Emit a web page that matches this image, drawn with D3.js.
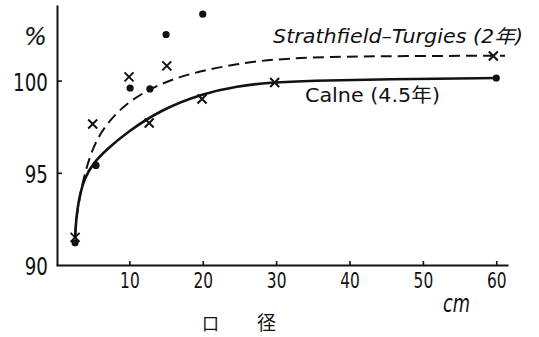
<!DOCTYPE html>
<html>
<head>
<meta charset="utf-8">
<script src="https://cdn.jsdelivr.net/npm/d3@7"></script>
<style>
  html, body { margin: 0; padding: 0; background: #fff; }
  svg { display: block; }
  text { fill: #111; font-family: "DejaVu Sans", "Noto Sans CJK JP", sans-serif; }
</style>
</head>
<body>
<svg id="chart" width="539" height="337"></svg>
<script>
// Aperture (cm) vs. relative percentage, two sites
const xTicks = [10, 20, 30, 40, 50, 60];
const yTicks = [90, 95, 100];

// Strathfield-Turgies (2年): observed points (×)
const stratX = [2.6, 5.0, 9.95, 12.7, 15.1, 19.9, 29.8, 59.6];
const stratY = [91.5, 97.65, 100.2, 97.7, 100.8, 99.0, 99.9, 101.33];

// Calne (4.5年): observed points (●)
const calneX = [2.6, 5.45, 10.1, 12.8, 15.0, 20.0, 60.0];
const calneY = [91.2, 95.4, 99.6, 99.55, 102.5, 103.6, 100.14];

// Fitted curve for Strathfield-Turgies (dashed)
const stratCurveX = [2.6, 2.8, 3.2, 3.8, 5.0, 6.9, 9.7, 12.8, 16.0, 20.0, 24.7, 29.2, 37.3, 46.9, 61.2];
const stratCurveY = [91.6, 92.6, 93.6, 94.8, 96.4, 97.7, 98.8, 99.55, 100.1, 100.55, 100.9, 101.15, 101.3, 101.33, 101.35];

// Fitted curve for Calne (solid)
const calneCurveX = [2.6, 2.7, 2.9, 3.3, 3.9, 5.0, 7.0, 9.7, 14.2, 20.0, 24.7, 29.2, 34.6, 45.0, 60.0];
const calneCurveY = [91.4, 92.2, 93.0, 93.9, 94.7, 95.5, 96.3, 97.2, 98.4, 99.3, 99.7, 99.9, 100.0, 100.07, 100.14];

const svg = d3.select("#chart");

const x = d3.scaleLinear().domain([0, 61.6]).range([56, 508]);
const y = d3.scaleLinear().domain([90, 104.1]).range([265, 5]);

// Axes
const xAxis = d3.axisBottom(x).tickValues(xTicks).tickSize(-4).tickSizeOuter(0).tickPadding(7);
const yAxis = d3.axisLeft(y).tickValues(yTicks).tickSize(-5).tickSizeOuter(0).tickPadding(12);

const gx = svg.append("g").attr("transform", "translate(0,265)").call(xAxis);
const gy = svg.append("g").attr("transform", "translate(57,0)").call(yAxis);

[gx, gy].forEach(g => {
  g.select(".domain").attr("stroke", "#111").attr("stroke-width", 2);
  g.selectAll(".tick line").attr("stroke", "#111").attr("stroke-width", 1.6);
  g.selectAll(".tick text").attr("fill", "#111")
    .style("font-family", "'DejaVu Sans', sans-serif");
});
gy.selectAll(".tick").filter(d => d === 90).select("line").remove();

gx.selectAll(".tick text")
  .style("font-size", "22px")
  .attr("transform", "scale(0.7,1)");
gy.selectAll(".tick text")
  .style("font-size", "24px")
  .attr("dy", "0.4em")
  .attr("transform", "scale(0.76,1)");

// Fitted curves
const line = d3.line()
  .x(d => x(d[0]))
  .y(d => y(d[1]))
  .curve(d3.curveBasis);

svg.append("path")
  .datum(d3.zip(stratCurveX, stratCurveY))
  .attr("d", line)
  .attr("fill", "none")
  .attr("stroke", "#111")
  .attr("stroke-width", 2)
  .attr("stroke-dasharray", "11,6");

svg.append("path")
  .datum(d3.zip(calneCurveX, calneCurveY))
  .attr("d", line)
  .attr("fill", "none")
  .attr("stroke", "#111")
  .attr("stroke-width", 2.6);

// Observed points
svg.append("g").selectAll("circle")
  .data(d3.zip(calneX, calneY))
  .join("circle")
  .attr("cx", d => x(d[0]))
  .attr("cy", d => y(d[1]))
  .attr("r", 3.6)
  .attr("fill", "#111");

const cs = 4.5;
const crosses = svg.append("g").selectAll("g")
  .data(d3.zip(stratX, stratY))
  .join("g")
  .attr("transform", d => `translate(${x(d[0])},${y(d[1])})`);
crosses.append("path")
  .attr("d", `M${-cs},${-cs}L${cs},${cs}M${cs},${-cs}L${-cs},${cs}`)
  .attr("stroke", "#111")
  .attr("stroke-width", 2)
  .attr("fill", "none");

// Labels
svg.append("text")
  .attr("x", 24).attr("y", 45)
  .style("font-size", "24px")
  .style("font-style", "italic")
  .text("%");

svg.append("text")
  .attr("x", 273).attr("y", 43)
  .style("font-size", "19px")
  .style("font-style", "italic")
  .attr("textLength", 250)
  .attr("lengthAdjust", "spacingAndGlyphs")
  .text("Strathfield–Turgies (2年)");

svg.append("text")
  .attr("x", 305).attr("y", 102)
  .style("font-size", "19px")
  .attr("textLength", 135)
  .attr("lengthAdjust", "spacingAndGlyphs")
  .text("Calne (4.5年)");

svg.append("text")
  .attr("x", 443).attr("y", 312)
  .style("font-size", "24px")
  .style("font-style", "italic")
  .attr("textLength", 27)
  .attr("lengthAdjust", "spacingAndGlyphs")
  .text("cm");

svg.append("text")
  .attr("x", 202).attr("y", 330)
  .style("font-size", "17px")
  .style("font-family", "'Noto Sans CJK JP', sans-serif")
  .text("口");

svg.append("text")
  .attr("x", 257).attr("y", 330)
  .style("font-size", "19px")
  .style("font-family", "'Noto Sans CJK JP', sans-serif")
  .text("径");
</script>
</body>
</html>
